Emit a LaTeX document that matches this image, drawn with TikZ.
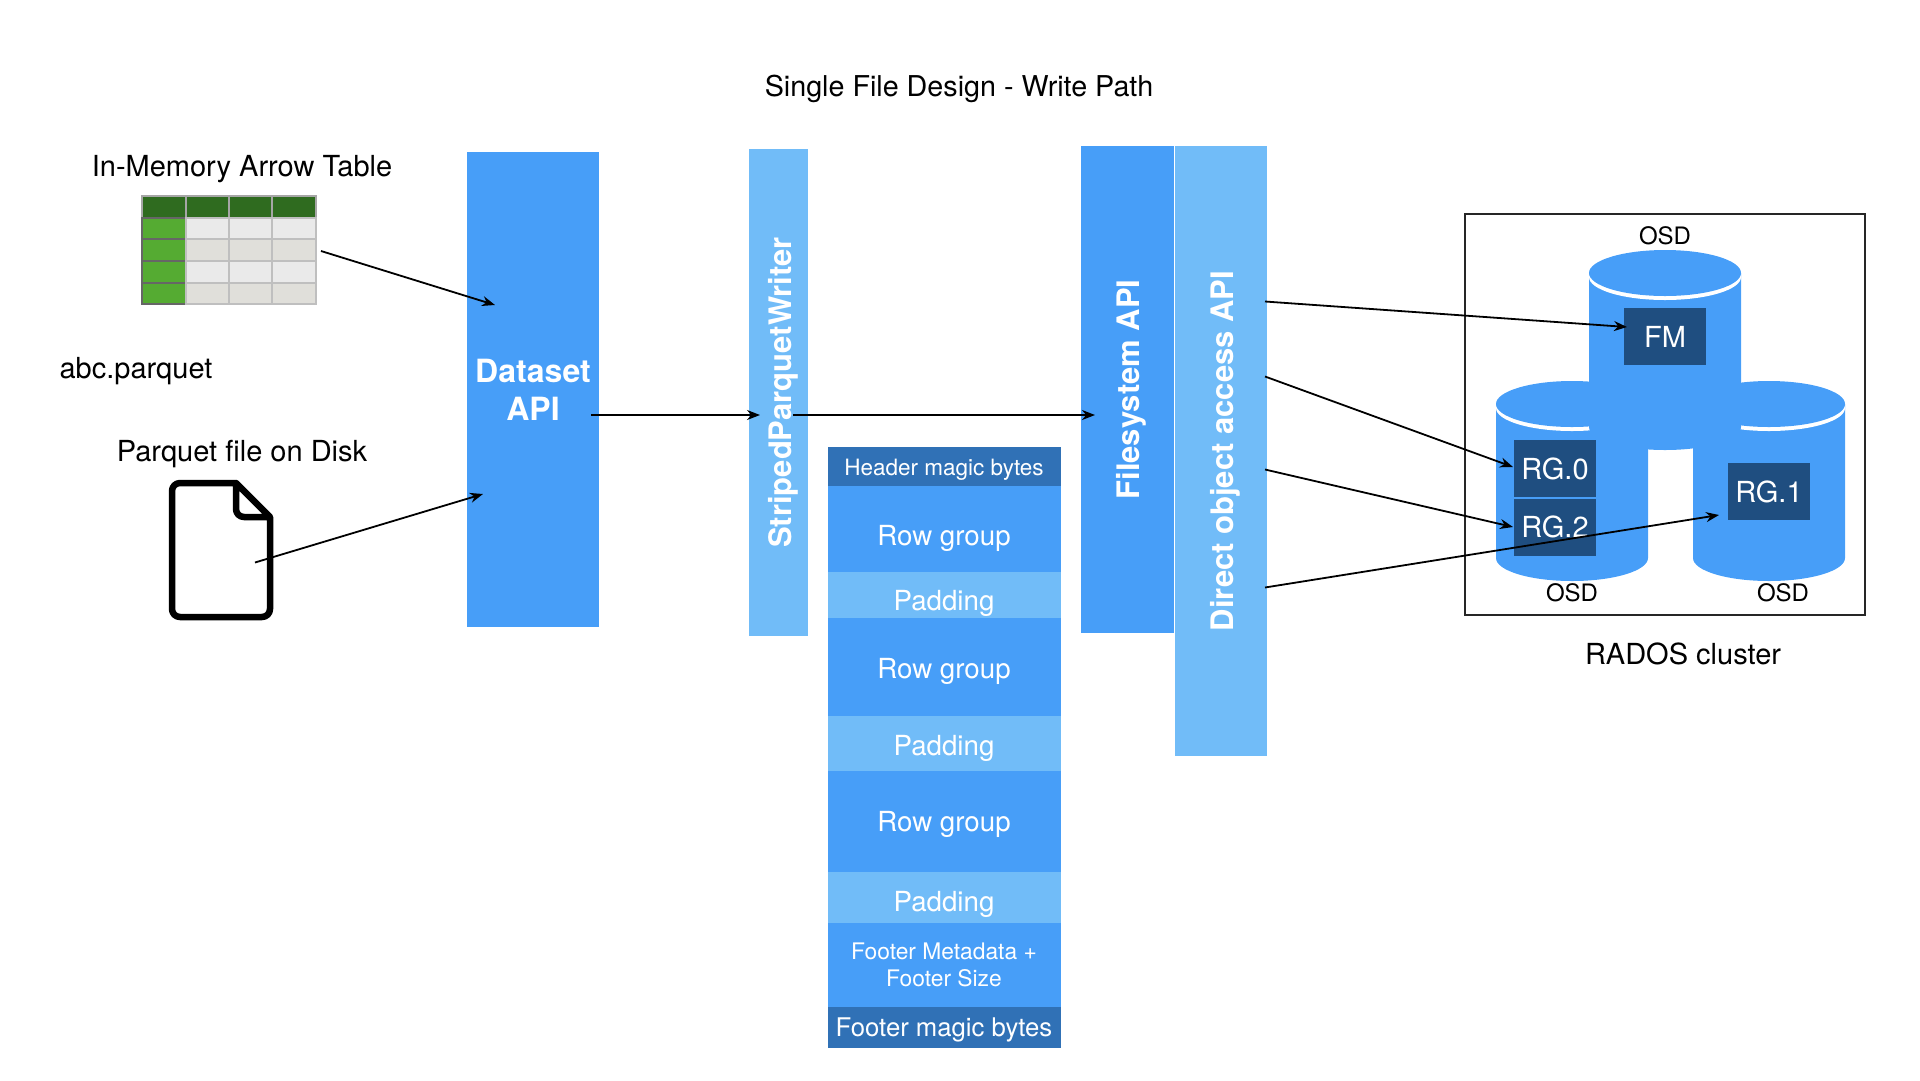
\documentclass[tikz,border=0pt]{standalone}
\usepackage{fontspec}
\setmainfont{TeX Gyre Heros}
\usetikzlibrary{arrows.meta,positioning}
\definecolor{apiBlue}{HTML}{479EF8}
\definecolor{apiLight}{HTML}{71BCF8}
\definecolor{magicBlue}{HTML}{3071B6}
\definecolor{osdNavy}{HTML}{1F4E80}
\definecolor{headGreen}{HTML}{2F6B1F}
\definecolor{rowGreen}{HTML}{55AB32}
\definecolor{cellA}{HTML}{EAEAEA}
\definecolor{cellB}{HTML}{E0DFDA}
\newcommand{\px}[1]{\fontsize{#1}{#1}\selectfont}
\tikzstyle{eNode} = [inner sep=0pt, outer sep=0pt, text=black, font=\px{29}]
\tikzstyle{apiNode} = [rectangle, inner sep=0pt, outer sep=0pt, text=white, align=center, font=\bfseries\px{32}]
\tikzstyle{apiNodeB} = [apiNode, fill=apiBlue]
\tikzstyle{apiNodeL} = [apiNode, fill=apiLight]
\tikzstyle{apiSide} = [rotate=90, font=\bfseries\px{31}, text height=24.5pt, text depth=0pt]
\tikzstyle{segNode} = [rectangle, inner sep=0pt, outer sep=0pt, minimum width=233pt, text=white, align=center, font=\px{27.7}]
\tikzstyle{rowNode} = [segNode, fill=apiBlue]
\tikzstyle{padNode} = [segNode, fill=apiLight]
\tikzstyle{magicNode} = [segNode, fill=magicBlue]
\tikzstyle{objNode} = [rectangle, inner sep=0pt, outer sep=0pt, minimum width=82pt, minimum height=57pt, fill=osdNavy, text=white, font=\px{29}]
\tikzstyle{osdLabel} = [eNode, font=\px{24}]
\tikzstyle{arrow} = [line width=1.8pt, -{Stealth[length=13pt,width=10pt]}, draw=black]
\begin{document}
\begin{tikzpicture}[x=1pt,y=-1pt]
        \useasboundingbox (0,0) rectangle (1920,1080);

        \node (title) [eNode, font=\px{28.7}] at (959,89) {Single File Design - Write Path};
        \node (tableLabel) [eNode] at (242,169) {In-Memory Arrow Table};
        \node (nameLabel) [eNode] at (136,371) {abc.parquet};
        \node (fileLabel) [eNode] at (242,454) {Parquet file on Disk};

        \node (arrowTable) [inner sep=0pt, outer sep=0pt, minimum width=174pt, minimum height=108pt] at (229,250) {};
        \foreach \col/\xa/\xb in {0/142/186,1/186/229,2/229/272,3/272/316} {
            \filldraw [draw=gray!70, line width=1.1pt, fill=headGreen] (\xa,196) rectangle (\xb,218);
            \foreach \row/\ya/\yb/\shade in {0/218/239/cellA,1/239/261/cellB,2/261/283/cellA,3/283/304/cellB} {
                \ifnum\col=0
                    \filldraw [draw=gray!80!black, line width=1.1pt, fill=rowGreen] (\xa,\ya) rectangle (\xb,\yb);
                \else
                    \filldraw [draw=gray!50, line width=1.1pt, fill=\shade] (\xa,\ya) rectangle (\xb,\yb);
                \fi
            }
        }

        \node (fileIcon) [inner sep=0pt, outer sep=0pt, minimum width=104pt, minimum height=140pt] at (221,550) {};
        \draw [line width=6.5pt, line join=round] (236,483) -- (180,483) arc (270:180:8) -- (172,609) arc (180:90:8) -- (262,617) arc (90:0:8) -- (270,517) -- (236,483) -- (236,509) arc (180:90:8) -- (270,517);

        \node (dataset) [apiNodeB, minimum width=132pt, minimum height=475pt] at (533,389.5) {Dataset\\[6pt]API};
        \node (striped) [apiNodeL, apiSide, minimum width=487pt, minimum height=59pt, text height=26pt] at (778.5,392.5) {StripedParquetWriter};
        \node (filesystem) [apiNodeB, apiSide, minimum width=487pt, minimum height=93pt] at (1127.5,389.5) {Filesystem API};
        \node (direct) [apiNodeL, apiSide, minimum width=610pt, minimum height=92pt] at (1221,451) {Direct object access API};

        \node (header) [magicNode, minimum height=39pt, font=\px{22.5}, text height=22pt] at (944,466.5) {Header magic bytes};
        \node (rowA) [rowNode, minimum height=86pt, below=0pt of header, text height=40pt] {Row group};
        \node (padA) [padNode, minimum height=46pt, below=0pt of rowA, text height=38pt] {Padding};
        \node (rowB) [rowNode, minimum height=98pt, below=0pt of padA, text height=30pt] {Row group};
        \node (padB) [padNode, minimum height=55pt, below=0pt of rowB, text height=30pt] {Padding};
        \node (rowC) [rowNode, minimum height=101pt, below=0pt of padB, text height=27pt] {Row group};
        \node (padC) [padNode, minimum height=51pt, below=0pt of rowC, text height=34pt] {Padding};
        \node (footer) [rowNode, minimum height=84pt, below=0pt of padC, font=\px{22.8}] {Footer Metadata +\\[4pt]Footer Size};
        \node (footerMagic) [magicNode, minimum height=41pt, below=0pt of footer, font=\px{25.7}, text height=24.5pt] {Footer magic bytes};

        \node (cluster) [draw=black!85, line width=2pt, inner sep=0pt, minimum width=400pt, minimum height=401pt] at (1665,414.5) {};
        \foreach \cx/\cy in {1572/404,1769/404,1665/273} {
            \fill [apiBlue] (\cx-76,\cy) -- (\cx-76,\cy+154) arc (180:0:76 and 23) -- (\cx+76,\cy) -- cycle;
            \fill [white] (\cx,\cy+4) ellipse (76 and 23);
            \fill [apiBlue] (\cx,\cy) ellipse (76 and 23);
        }
        \node (fm) [objNode] at (1665,336.5) {FM};
        \node (rg0) [objNode] at (1555,468.5) {RG.0};
        \node (rg2) [objNode] at (1555,527) {RG.2};
        \node (rg1) [objNode] at (1769,491.5) {RG.1};
        \node (osdTop) [osdLabel] at (1665,236) {OSD};
        \node (osdLeft) [osdLabel] at (1572,593) {OSD};
        \node (osdRight) [osdLabel] at (1783,593) {OSD};
        \node (clusterLabel) [eNode] at (1683,654) {RADOS cluster};

        \draw [arrow] ([shift={(5,1)}]arrowTable.east) -- ([shift={(28,-84.5)}]dataset.west);
        \draw [arrow] ([shift={(34,12.5)}]fileIcon.center) -- ([shift={(16,104.5)}]dataset.west);
        \draw [arrow] ([shift={(-8,25.5)}]dataset.east) -- ([shift={(-18.5,22.5)}]striped.center);
        \draw [arrow] ([shift={(14.5,22.5)}]striped.center) -- ([shift={(-32.5,25.5)}]filesystem.center);
        \draw [arrow] ([shift={(44,-149.5)}]direct.center) -- ([shift={(3,-9.5)}]fm.west);
        \draw [arrow] ([shift={(44,-74.5)}]direct.center) -- ([shift={(-1,-1.5)}]rg0.west);
        \draw [arrow] ([shift={(44,18.5)}]direct.center) -- ([shift={(-1,0)}]rg2.west);
        \draw [arrow] ([shift={(44,136.5)}]direct.center) -- ([shift={(-9,23.5)}]rg1.west);
    \end{tikzpicture}
\end{document}
